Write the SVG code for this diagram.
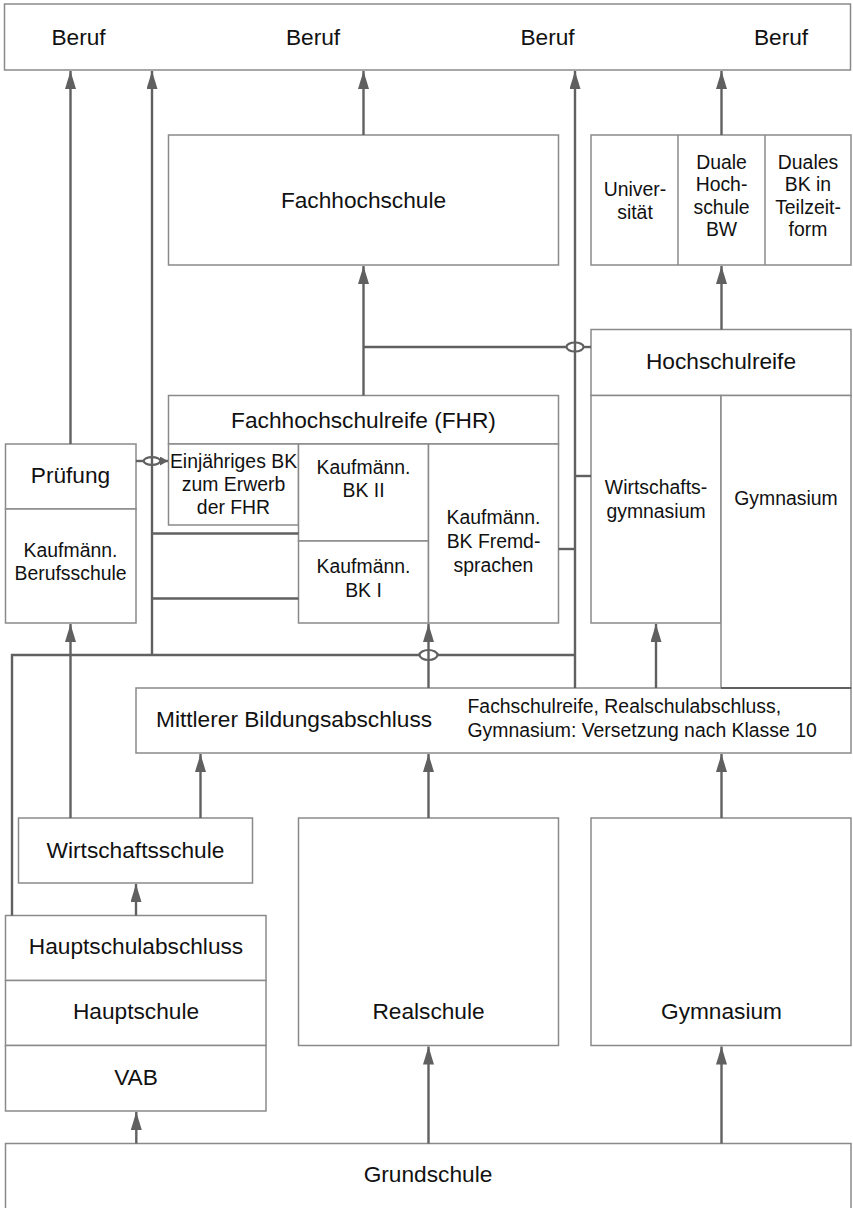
<svg xmlns="http://www.w3.org/2000/svg" width="853" height="1208" viewBox="0 0 853 1208">
<style>
.box{fill:#fff;stroke:#8a8a8a;stroke-width:1.5}
.ln{fill:none;stroke:#606060;stroke-width:2.4}
.hop{fill:none;stroke:#606060;stroke-width:2.2}
.t{font-family:"Liberation Sans",Arial,Helvetica,sans-serif;font-size:22.7px;fill:#111;text-anchor:middle}
.s{font-size:19.4px}
</style>
<defs>
<marker id="arr" viewBox="0 0 18 11" refX="18" refY="5.5" markerWidth="18" markerHeight="11" markerUnits="userSpaceOnUse" orient="auto">
<path d="M0,0 L18,5.5 L0,11 z" fill="#606060"/>
</marker>
<marker id="arrs" viewBox="0 0 8 9" refX="8" refY="4.5" markerWidth="8" markerHeight="9" markerUnits="userSpaceOnUse" orient="auto">
<path d="M0,0 L8,4.5 L0,9 z" fill="#606060"/>
</marker>
</defs>
<rect width="853" height="1208" fill="#fff"/>

<g id="beruf">
<rect class="box" x="4.5" y="4" width="846" height="66"/>
<text class="t" x="78.5" y="44.5">Beruf</text>
<text class="t" x="313" y="44.5">Beruf</text>
<text class="t" x="547.5" y="44.5">Beruf</text>
<text class="t" x="781" y="44.5">Beruf</text>
</g>

<g id="fachhochschule">
<rect class="box" x="168.5" y="135" width="390" height="130"/>
<text class="t" x="363.5" y="208">Fachhochschule</text>
</g>

<g id="hochschulen">
<rect class="box" x="591" y="135" width="260" height="130"/>
<line class="box" x1="678" y1="135" x2="678" y2="265"/>
<line class="box" x1="765" y1="135" x2="765" y2="265"/>
<text class="t s" x="635" y="196">Univer-</text>
<text class="t s" x="635" y="218.5">sität</text>
<text class="t s" x="721.5" y="168.5">Duale</text>
<text class="t s" x="721.5" y="191">Hoch-</text>
<text class="t s" x="721.5" y="213.7">schule</text>
<text class="t s" x="721.5" y="236.4">BW</text>
<text class="t s" x="808" y="168.5">Duales</text>
<text class="t s" x="808" y="191">BK in</text>
<text class="t s" x="808" y="213.7">Teilzeit-</text>
<text class="t s" x="808" y="236.4">form</text>
</g>

<g id="hochschulreife">
<rect class="box" x="591" y="329.5" width="260" height="66"/>
<text class="t" x="721" y="368.5">Hochschulreife</text>
</g>

<g id="wirtschaftsgymnasium">
<rect class="box" x="591" y="395.5" width="130" height="227.5"/>
<text class="t s" x="656" y="494">Wirtschafts-</text>
<text class="t s" x="656" y="517.5">gymnasium</text>
</g>

<g id="gymnasium-oberstufe">
<rect class="box" x="721" y="395.5" width="130" height="292.5"/>
<text class="t s" x="786" y="505">Gymnasium</text>
</g>

<g id="fhr">
<rect class="box" x="168.5" y="395.5" width="390" height="48.5"/>
<text class="t" x="363.5" y="427.5">Fachhochschulreife (FHR)</text>
</g>

<g id="einjaehriges-bk">
<rect class="box" x="168.5" y="444" width="130" height="81"/>
<text class="t s" x="233.5" y="468.3">Einjähriges BK</text>
<text class="t s" x="233.5" y="491">zum Erwerb</text>
<text class="t s" x="233.5" y="513.5">der FHR</text>
</g>

<g id="bk2">
<rect class="box" x="298.5" y="444" width="130" height="97"/>
<text class="t s" x="363.5" y="474">Kaufmänn.</text>
<text class="t s" x="363.5" y="496.7">BK II</text>
</g>

<g id="bk1">
<rect class="box" x="298.5" y="541" width="130" height="82"/>
<text class="t s" x="363.5" y="573.3">Kaufmänn.</text>
<text class="t s" x="363.5" y="596.7">BK I</text>
</g>

<g id="bk-fremdsprachen">
<rect class="box" x="428.5" y="444" width="130" height="179"/>
<text class="t s" x="493.5" y="524">Kaufmänn.</text>
<text class="t s" x="493.5" y="548">BK Fremd-</text>
<text class="t s" x="493.5" y="571.7">sprachen</text>
</g>

<g id="pruefung">
<rect class="box" x="5.5" y="444" width="130.5" height="65"/>
<text class="t" x="70.5" y="482.7">Prüfung</text>
</g>

<g id="berufsschule">
<rect class="box" x="5.5" y="509" width="130.5" height="114"/>
<text class="t s" x="70.5" y="557">Kaufmänn.</text>
<text class="t s" x="70.5" y="580">Berufsschule</text>
</g>

<g id="mittlerer-bildungsabschluss">
<rect class="box" x="136" y="688" width="715" height="65"/>
<line x1="721" y1="688" x2="851" y2="688" stroke="#606060" stroke-width="2"/>
<text class="t" x="156" y="726.7" text-anchor="start" style="text-anchor:start">Mittlerer Bildungsabschluss</text>
<text class="t s" x="467.5" y="713.3" style="text-anchor:start">Fachschulreife, Realschulabschluss,</text>
<text class="t s" x="467.5" y="737.3" style="text-anchor:start">Gymnasium: Versetzung nach Klasse 10</text>
</g>

<g id="wirtschaftsschule">
<rect class="box" x="18.5" y="818" width="234" height="65"/>
<text class="t" x="135.5" y="858.3">Wirtschaftsschule</text>
</g>

<g id="hauptschulabschluss">
<rect class="box" x="5.5" y="915.5" width="260.5" height="65"/>
<text class="t" x="136" y="954.3">Hauptschulabschluss</text>
</g>

<g id="hauptschule">
<rect class="box" x="5.5" y="980.5" width="260.5" height="65"/>
<text class="t" x="136" y="1019.3">Hauptschule</text>
</g>

<g id="vab">
<rect class="box" x="5.5" y="1045.5" width="260.5" height="65.5"/>
<text class="t" x="136" y="1085">VAB</text>
</g>

<g id="realschule">
<rect class="box" x="298.5" y="818" width="260" height="227.5"/>
<text class="t" x="428.5" y="1019.3">Realschule</text>
</g>

<g id="gymnasium">
<rect class="box" x="591" y="818" width="260" height="227.5"/>
<text class="t" x="721.5" y="1019.3">Gymnasium</text>
</g>

<g id="grundschule">
<rect class="box" x="5.5" y="1143.5" width="845.5" height="70"/>
<text class="t" x="428" y="1181.5">Grundschule</text>
</g>

<g id="connectors">
<path class="ln" d="M70.5,444 V71" marker-end="url(#arr)"/>
<path class="ln" d="M152,655 V71" marker-end="url(#arr)"/>
<path class="ln" d="M363.5,135 V71" marker-end="url(#arr)"/>
<path class="ln" d="M575,688 V71" marker-end="url(#arr)"/>
<path class="ln" d="M721.5,135 V71" marker-end="url(#arr)"/>
<path class="ln" d="M363.5,395.5 V266" marker-end="url(#arr)"/>
<path class="ln" d="M363.5,347 H566.5"/>
<path class="ln" d="M583.5,347 H591"/>
<ellipse class="hop" cx="575" cy="347" rx="8.5" ry="4.5"/>
<path class="ln" d="M721.5,329.5 V266" marker-end="url(#arr)"/>
<path class="ln" d="M575,476 H591"/>
<path class="ln" d="M558.5,549 H575"/>
<path class="ln" d="M136,461 H143.7"/>
<ellipse class="hop" cx="152" cy="461" rx="8.3" ry="3.8"/>
<path class="ln" d="M160.3,461 H168" marker-end="url(#arrs)"/>
<path class="ln" d="M152,533.5 H298.5"/>
<path class="ln" d="M152,598.5 H298.5"/>
<path class="ln" d="M12,915.5 V655 H419.5"/>
<path class="ln" d="M437.5,655 H575"/>
<ellipse class="hop" cx="428.5" cy="655" rx="9" ry="5"/>
<path class="ln" d="M428.5,688 V624" marker-end="url(#arr)"/>
<path class="ln" d="M656,688 V624" marker-end="url(#arr)"/>
<path class="ln" d="M70.5,818 V624" marker-end="url(#arr)"/>
<path class="ln" d="M200.5,818 V754" marker-end="url(#arr)"/>
<path class="ln" d="M136,915.5 V884" marker-end="url(#arr)"/>
<path class="ln" d="M428.5,818 V754" marker-end="url(#arr)"/>
<path class="ln" d="M721.5,818 V754" marker-end="url(#arr)"/>
<path class="ln" d="M136.3,1143.5 V1112" marker-end="url(#arr)"/>
<path class="ln" d="M428.5,1143.5 V1046.5" marker-end="url(#arr)"/>
<path class="ln" d="M721.5,1143.5 V1046.5" marker-end="url(#arr)"/>
</g>
</svg>
